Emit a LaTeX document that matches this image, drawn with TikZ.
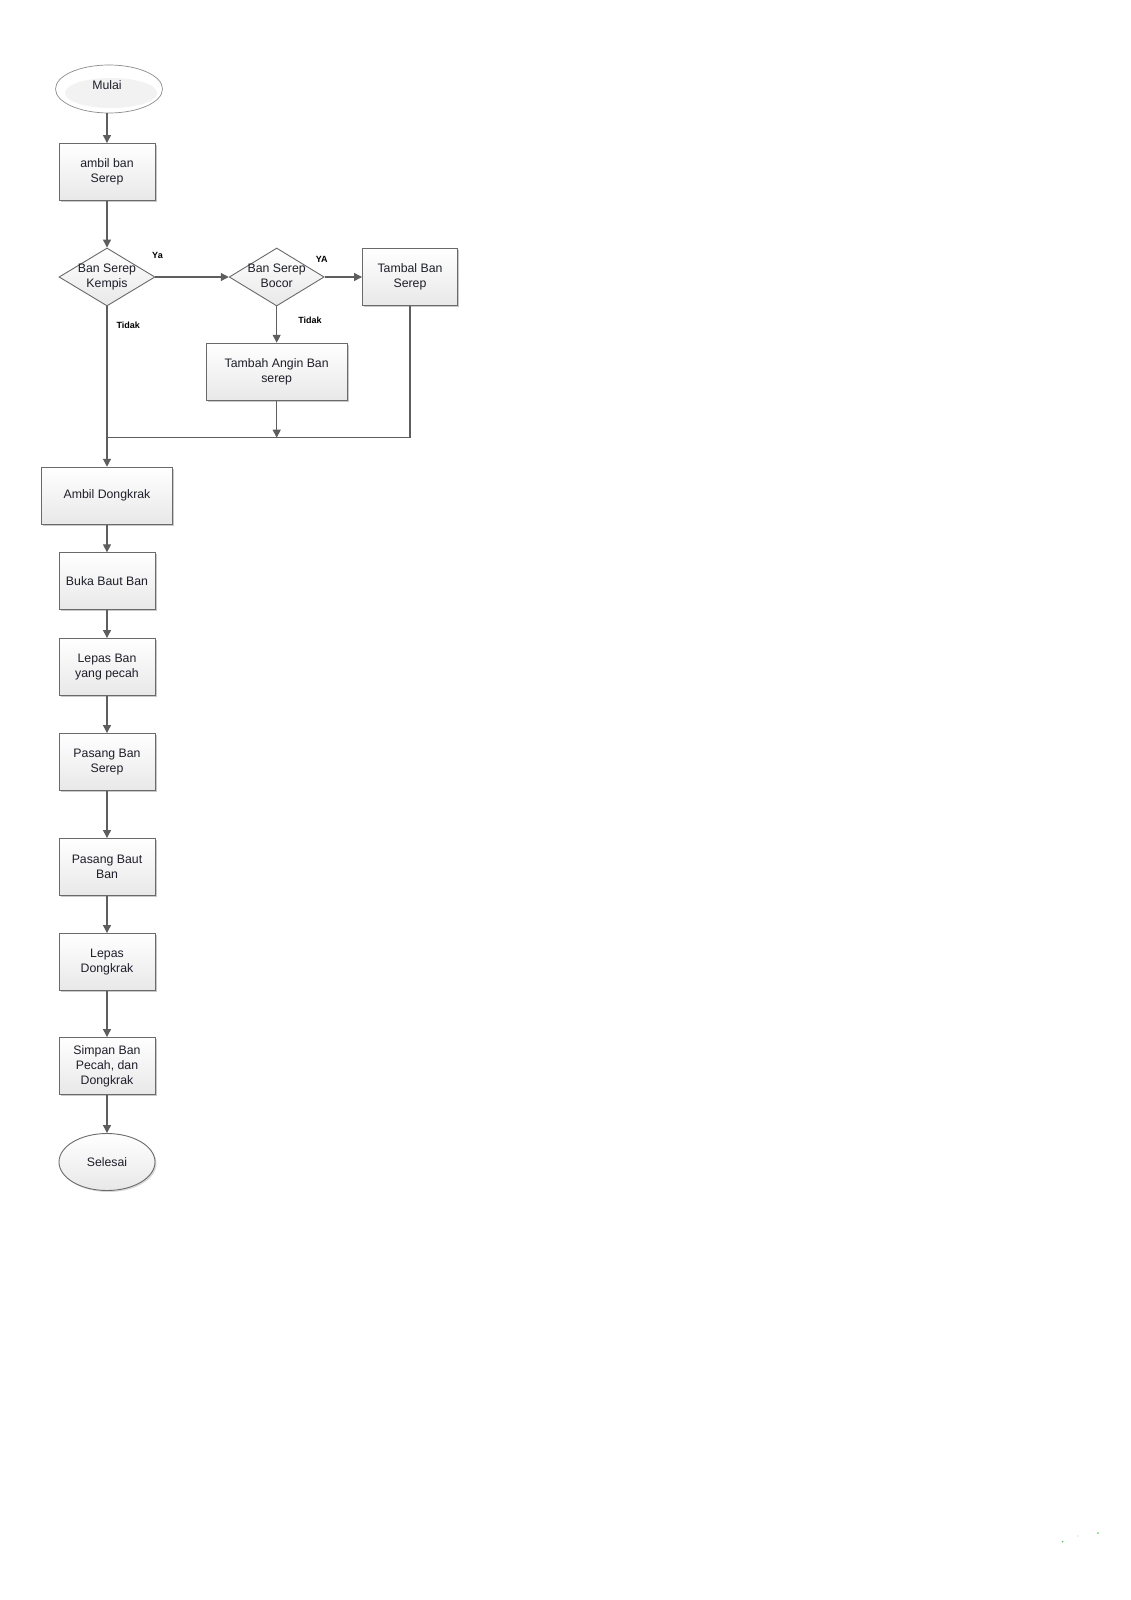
\documentclass[tikz,border=0pt]{standalone}
\usepackage{fontspec}
\setmainfont{Liberation Sans}
\usetikzlibrary{shapes.geometric,arrows.meta,shadows}
\definecolor{edgecol}{HTML}{5E5E5E}
\definecolor{boxline}{HTML}{6A6A6A}
\definecolor{txt}{HTML}{1E1E2A}
\begin{document}
\begin{tikzpicture}[x=1pt,y=-1pt,
  every node/.style={font=\fontsize{12.3}{15}\selectfont, text=txt},
  procbox/.style={rectangle, draw=boxline, line width=0.9pt, top color=white, bottom color=black!9,
    minimum width=96pt, minimum height=57pt, align=center, inner sep=2pt,
    drop shadow={shadow xshift=1.5pt, shadow yshift=-1.5pt, fill=black!35, opacity=0.6}},
  decbox/.style={diamond, draw=boxline, line width=0.9pt, top color=white, bottom color=black!9,
    minimum width=96pt, minimum height=58pt, inner sep=0pt, aspect=1.65},
  termbox/.style={ellipse, draw=boxline, line width=0.9pt, top color=white, bottom color=black!9,
    minimum width=96pt, minimum height=57pt, inner sep=0pt,
    drop shadow={shadow xshift=1.5pt, shadow yshift=-1.5pt, fill=black!30, opacity=0.5}},
  flow/.style={draw=edgecol, line width=1.2pt, -{Triangle[length=8pt,width=8pt]}},
  plainflow/.style={draw=edgecol, line width=1.2pt},
  lbl/.style={font=\fontsize{9}{10}\selectfont\bfseries, text=black, inner sep=0pt}
]
\useasboundingbox (0,0) rectangle (1131,1600);
\fill[white] (0,0) rectangle (1131,1600);

% start
\node[ellipse, draw=black!45, line width=0.7pt, fill=white, minimum width=107pt, minimum height=48pt, inner sep=0pt] (start) at (109,89) {};
\node[ellipse, fill=black!5, minimum width=92pt, minimum height=30pt, inner sep=0pt] (startin) at (111,93) {};
\node (starttxt) at (107,85.5) {Mulai};

\node[procbox] (ambil) at (107,172) {\raisebox{-1pt}{\begin{tabular}{@{}c@{}}ambil ban\\Serep\end{tabular}}};
\node[decbox] (d1) at (107,277) {\raisebox{-5pt}{\smash{\makebox[0pt]{\begin{tabular}{@{}c@{}}Ban Serep\\Kempis\end{tabular}}}}};
\node[decbox, minimum width=95pt] (d2) at (276.7,277) {\raisebox{-5pt}{\smash{\makebox[0pt]{\begin{tabular}{@{}c@{}}Ban Serep\\Bocor\end{tabular}}}}};
\node[procbox, minimum width=95pt] (tambal) at (410,277) {Tambal Ban\\Serep};
\node[procbox, minimum width=141pt] (tambah) at (276.7,371.7) {Tambah Angin Ban\\serep};
\coordinate (m) at (276.7,437.7);
\coordinate (mL) at (107,437.7);
\node[procbox, minimum width=131pt] (dongkrak) at (107,495.7) {Ambil Dongkrak};
\node[procbox] (buka) at (107,581.3) {Buka Baut Ban};
\node[procbox] (lepas) at (107,667) {Lepas Ban\\yang pecah};
\node[procbox] (pasangban) at (107,762) {Pasang Ban\\Serep};
\node[procbox] (pasangbaut) at (107,867) {Pasang Baut\\Ban};
\node[procbox] (lepasd) at (107,962) {Lepas\\Dongkrak};
\node[procbox] (simpan) at (107,1066) {Simpan Ban\\Pecah, dan\\Dongkrak};
\node[termbox] (selesai) at (107,1162) {Selesai};

% labels
\node[lbl] (lya) at (157.5,255) {Ya};
\node[lbl] (lYA) at (321.7,259.5) {YA};
\node[lbl] (lt1) at (128.3,325.5) {Tidak};
\node[lbl] (lt2) at (310,320) {Tidak};

% connectors
\draw[flow] (ambil.north |- start.south) -- (ambil.north);
\draw[flow] (ambil.south) -- (d1.north);
\draw[flow] (d1.east) -- (d2.west);
\draw[flow] (d2.east) -- (tambal.west);
\draw[flow] (d2.south) -- (tambah.north);
\draw[flow] (d1.south) -- (dongkrak.north);
\draw[flow] (tambah.south) -- (m);
\draw[plainflow] (tambal.south) |- (mL);
\draw[flow] (dongkrak.south) -- (buka.north);
\draw[flow] (buka.south) -- (lepas.north);
\draw[flow] (lepas.south) -- (pasangban.north);
\draw[flow] (pasangban.south) -- (pasangbaut.north);
\draw[flow] (pasangbaut.south) -- (lepasd.north);
\draw[flow] (lepasd.south) -- (simpan.north);
\draw[flow] (simpan.south) -- (selesai.north);

% tiny green specks
\fill[green!70!black, opacity=0.6] (1062.7,1541.7) circle (1pt);
\fill[green!70!black, opacity=0.4] (1078,1536) circle (0.7pt);
\fill[green!70!black, opacity=0.6] (1098,1533) circle (1pt);
\end{tikzpicture}
\end{document}
